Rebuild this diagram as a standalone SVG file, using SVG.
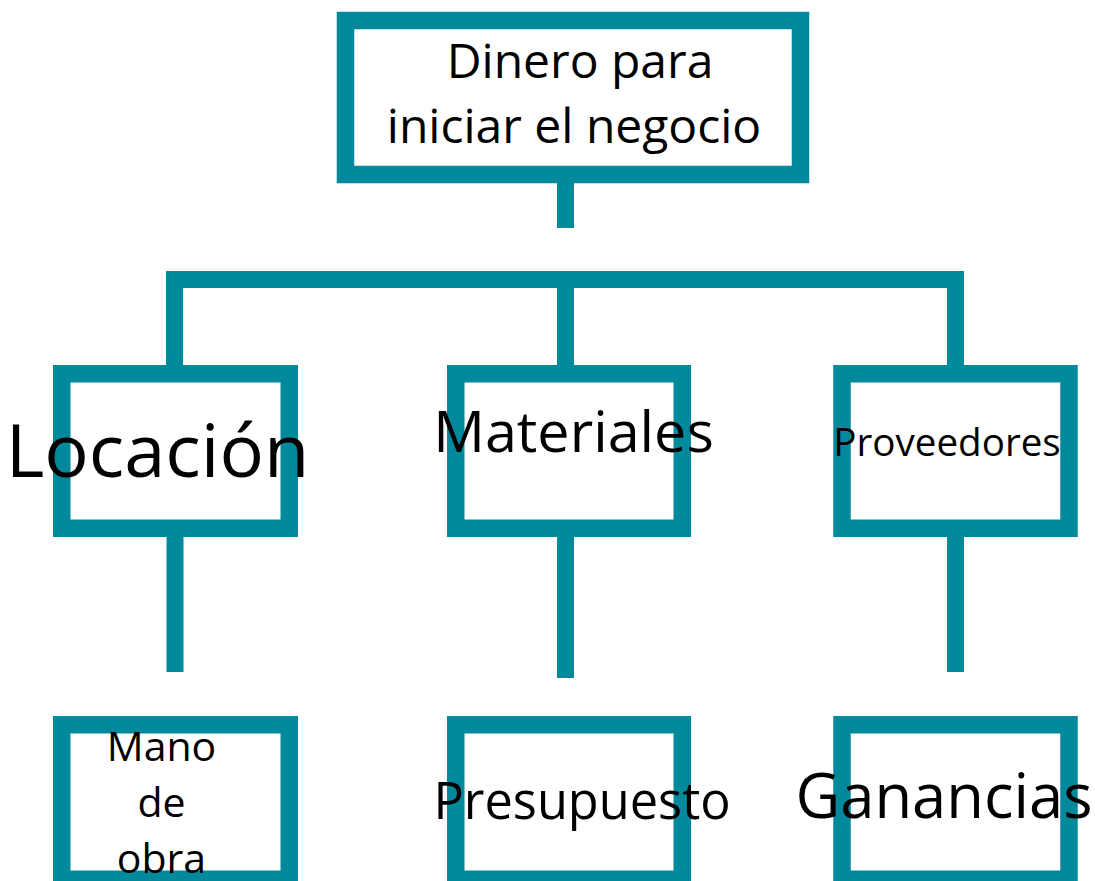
<svg xmlns="http://www.w3.org/2000/svg" width="1095" height="881" viewBox="0 0 1095 881">
<style>
.box{fill:#fff;stroke:#03899c;stroke-width:17.5}
.con{fill:none;stroke:#03899c;stroke-width:17;stroke-linecap:butt;stroke-linejoin:miter}
text{font-family:"Open Sans","Noto Sans",sans-serif;fill:#000;text-anchor:middle}
</style>
<rect width="1095" height="881" fill="#fff"/>
<g id="connectors">
<path class="con" d="M565.5,183 V228"/>
<path class="con" d="M174.5,366 V279.5 H955.5 V366"/>
<path class="con" d="M565.5,279.5 V366"/>
<path class="con" d="M175,536 V672"/>
<path class="con" d="M565.5,536 V678"/>
<path class="con" d="M955.5,536 V672"/>
</g>
<g id="node-root">
<rect class="box" x="345.5" y="20.5" width="455" height="154"/>
<text x="580" y="78" font-size="48">Dinero para</text>
<text x="574" y="143" font-size="48">iniciar el negocio</text>
</g>
<g id="node-locacion">
<rect class="box" x="61.75" y="373.75" width="227.5" height="154.5"/>
<text x="157.5" y="477" font-size="74">Locación</text>
</g>
<g id="node-materiales">
<rect class="box" x="455.75" y="373.75" width="226.5" height="154.5"/>
<text x="573.5" y="452" font-size="57.5">Materiales</text>
</g>
<g id="node-proveedores">
<rect class="box" x="842" y="373.75" width="227" height="154.5"/>
<text x="947" y="456" font-size="38.6">Proveedores</text>
</g>
<g id="node-mano">
<rect class="box" x="61.75" y="724.75" width="227.5" height="154.5"/>
<text x="161.5" y="761" font-size="41">Mano</text>
<text x="161.5" y="817" font-size="41">de</text>
<text x="161.5" y="873" font-size="41">obra</text>
</g>
<g id="node-presupuesto">
<rect class="box" x="455.75" y="724.75" width="226.5" height="154.5"/>
<text x="582" y="819" font-size="50.5">Presupuesto</text>
</g>
<g id="node-ganancias">
<rect class="box" x="842" y="724.75" width="227" height="154.5"/>
<text x="944" y="818" font-size="61.5">Ganancias</text>
</g>
</svg>
